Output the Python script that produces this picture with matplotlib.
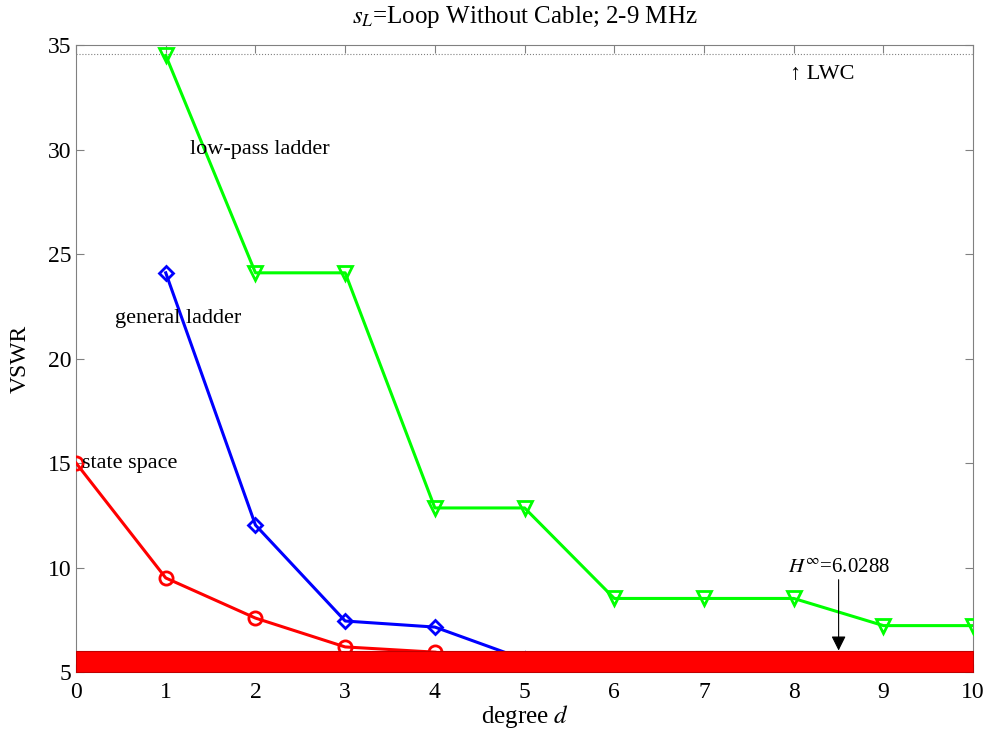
import matplotlib
matplotlib.use("Agg")
import matplotlib.pyplot as plt

plt.rcParams['font.family'] = ['Liberation Serif', 'DejaVu Serif']
plt.rcParams['mathtext.fontset'] = 'stix'

# VSWR versus matching-network degree
deg_state = [0, 1, 2, 3, 4]
vswr_state = [15.0, 9.5, 7.58, 6.2, 5.95]

deg_general = [1, 2, 3, 4, 5]
vswr_general = [24.1, 12.03, 7.44, 7.15, 5.6]

deg_lowpass = [1, 2, 3, 4, 5, 6, 7, 8, 9, 10]
vswr_lowpass = [34.5, 24.1, 24.1, 12.85, 12.85, 8.52, 8.52, 8.52, 7.22, 7.22]

lwc = 34.55          # load without compensation
h_inf = 6.0288       # H-infinity bound
y_floor = 5

fig = plt.figure(figsize=(9.85, 7.33), dpi=100)
ax = fig.add_axes([0.0772, 0.0832, 0.9108, 0.8554])

lw = 2.2
ax.plot(deg_state, vswr_state, color='#ff0000', lw=lw, marker='o', ms=9.5,
        mfc='none', mew=2, zorder=3)
ax.plot(deg_general, vswr_general, color='#0000ff', lw=lw, marker='D', ms=7.5,
        mfc='none', mew=2, zorder=3)
ax.plot(deg_lowpass, vswr_lowpass, color='#00ff00', lw=lw, marker='v', ms=10.5,
        mfc='none', mew=2, zorder=3)

# H-infinity bound region
ax.fill_between([0, 10], y_floor, h_inf, color='#ff0000', edgecolor='#c00000',
                lw=0.8, zorder=4)

# LWC level
ax.axhline(lwc, color='#808080', ls=':', lw=0.8, zorder=2)

fs_note = 16
ax.text(1.27, 30, 'low-pass ladder', fontsize=fs_note, va='center', ha='left')
ax.text(0.43, 21.9, 'general ladder', fontsize=fs_note, va='center', ha='left')
ax.text(0.07, 15, 'state space', fontsize=fs_note, va='center', ha='left')
ax.text(7.96, 33.6, '\u2191 LWC', fontsize=fs_note, va='center', ha='left')

ax.annotate(r'$H^{\infty}$=6.0288', xy=(8.5, h_inf), xytext=(8.5, 9.55),
            fontsize=15, ha='center', va='bottom', zorder=5,
            arrowprops=dict(arrowstyle='-|>', color='black', lw=0.8,
                            mutation_scale=22, shrinkA=0, shrinkB=0))

ax.set_xlim(0, 10)
ax.set_ylim(5, 35)
ax.set_xticks(range(0, 11))
ax.set_yticks(range(5, 36, 5))
ax.tick_params(direction='in', top=True, right=True, labelsize=17,
               color='#808080', length=6)
ax.tick_params(axis='x', pad=7)
for s in ax.spines.values():
    s.set_color('#808080')

ax.set_xlabel('degree $d$', fontsize=18, labelpad=0)
ax.set_ylabel('VSWR', fontsize=17, labelpad=12)
ax.set_title(r'$s_L$=Loop Without Cable; 2-9 MHz', fontsize=18, pad=16)

fig.savefig('out.png', dpi=100)
